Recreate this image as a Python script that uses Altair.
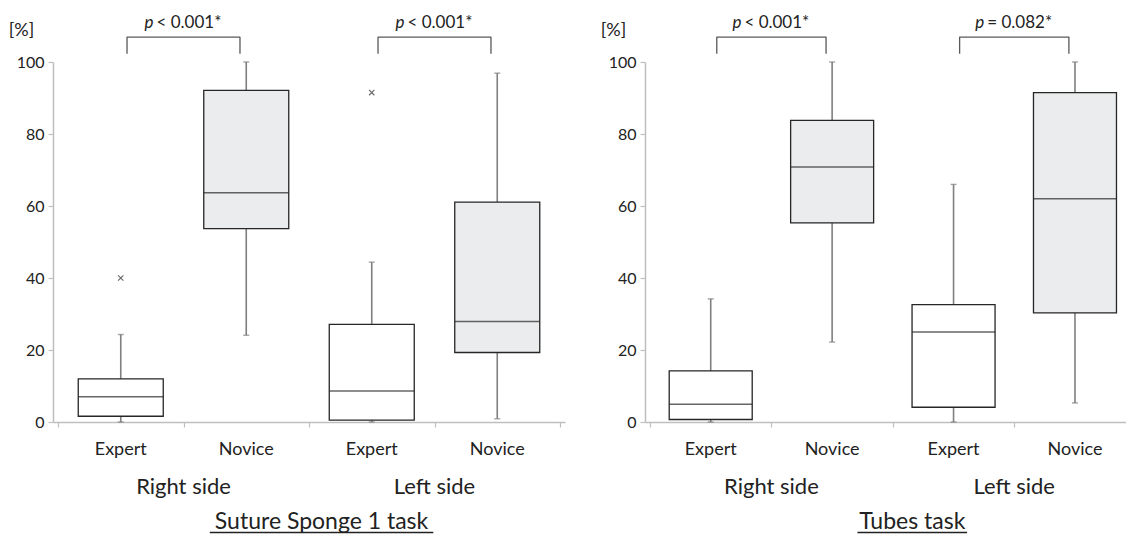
import altair as alt
import pandas as pd

# ---------------- data ----------------
groups = ["Expert", "Novice", "Expert", "Novice"]
sides = ["Right side", "Left side"]
positions = [0.5, 1.5, 2.5, 3.5]
fills = ["#ffffff", "#ebeced", "#ffffff", "#ebeced"]

# Suture Sponge 1 task
ss_lo = [0.0, 24.1, 0.0, 0.9]
ss_q1 = [1.6, 53.7, 0.5, 19.3]
ss_med = [7.0, 63.7, 8.6, 27.9]
ss_q3 = [12.0, 92.1, 27.1, 61.1]
ss_hi = [24.3, 100.0, 44.4, 96.9]
ss_out_group = [0, 2]
ss_out_val = [40.0, 91.5]
ss_p = ["< 0.001*", "< 0.001*"]

# Tubes task
tb_lo = [0.0, 22.2, 0.0, 5.3]
tb_q1 = [0.7, 55.3, 4.1, 30.3]
tb_med = [4.9, 70.8, 25.0, 62.0]
tb_q3 = [14.2, 83.8, 32.6, 91.5]
tb_hi = [34.2, 100.0, 66.0, 100.0]
tb_out_group = []
tb_out_val = []
tb_p = ["< 0.001*", "= 0.082*"]

FONT = "Lato"
AXIS_GRAY = "#bfbfbf"
TEXT = "#222222"
WHISK = "#7f7f7f"
BOX = "#262626"


def panel(title, lo, q1, med, q3, hi, out_group, out_val, pvals,
          width, xmax, box_px, title_x, title_half_px):
    height = 360
    px_per_unit = width / xmax

    def X(field):
        return alt.X(field, type="quantitative",
                     scale=alt.Scale(domain=[0, xmax], nice=False, zero=False),
                     axis=alt.Axis(values=[v for v in [0, 1, 2, 3, 4] if v <= xmax],
                                   labels=False, title=None, grid=False,
                                   domainColor=AXIS_GRAY, tickColor=AXIS_GRAY,
                                   tickSize=5, domainWidth=1.5, tickWidth=1.2))

    def Y(field):
        return alt.Y(field, type="quantitative",
                     scale=alt.Scale(domain=[0, 100], nice=False),
                     axis=alt.Axis(values=[0, 20, 40, 60, 80, 100], title="[%]",
                                   titleAngle=0, titleX=-32, titleY=-32,
                                   titleAlign="center", titleBaseline="middle",
                                   titleFont=FONT, titleFontSize=18,
                                   titleFontWeight="normal", titleColor=TEXT,
                                   labelFont=FONT, labelFontSize=16,
                                   labelColor=TEXT, labelPadding=4,
                                   grid=False, domainColor=AXIS_GRAY,
                                   tickColor=AXIS_GRAY, tickSize=5,
                                   domainWidth=1.5, tickWidth=1.2))

    df = pd.DataFrame({"pos": positions, "group": groups, "lo": lo, "q1": q1,
                       "med": med, "q3": q3, "hi": hi, "fill": fills})
    base = alt.Chart(df)

    whisk = base.mark_rule(color=WHISK, strokeWidth=1.6).encode(
        x=X("pos"), y=Y("lo"), y2="hi")
    cap_hi = base.mark_tick(orient="horizontal", size=6, thickness=1.4,
                            color=WHISK).encode(x=X("pos"), y=Y("hi"))
    cap_lo = base.mark_tick(orient="horizontal", size=6, thickness=1.4,
                            color=WHISK).encode(x=X("pos"), y=Y("lo"))
    box = base.mark_bar(size=box_px, stroke=BOX, strokeWidth=1.3).encode(
        x=X("pos"), y=Y("q1"), y2="q3", fill=alt.Fill("fill:N", scale=None))
    median = base.mark_tick(orient="horizontal", size=box_px, thickness=1.5,
                            color=BOX).encode(x=X("pos"), y=Y("med"))

    layers = [whisk, cap_hi, cap_lo, box, median]

    if out_group:
        odf = pd.DataFrame({"pos": [positions[g] for g in out_group],
                            "val": out_val})
        layers.append(alt.Chart(odf).mark_point(
            shape="M-1,-1L1,1M-1,1L1,-1", size=28, strokeWidth=1.1,
            color=BOX, filled=False).encode(x=X("pos"), y=Y("val")))

    # category labels
    layers.append(base.mark_text(font=FONT, fontSize=18, color=TEXT, dy=32.5,
                                 baseline="alphabetic").encode(
        x=X("pos"), y=alt.datum(0), text="group:N"))

    # side labels
    sdf = pd.DataFrame({"side": sides,
                        "pos": [(positions[0] + positions[1]) / 2,
                                (positions[2] + positions[3]) / 2]})
    layers.append(alt.Chart(sdf).mark_text(font=FONT, fontSize=22, color=TEXT,
                                           dy=72, baseline="alphabetic").encode(
        x=X("pos"), y=alt.datum(0), text="side:N"))

    # title + underline
    tdf = pd.DataFrame({"title": [title], "pos": [title_x],
                        "x0": [title_x - title_half_px / px_per_unit],
                        "x1": [title_x + title_half_px / px_per_unit]})
    layers.append(alt.Chart(tdf).mark_text(font=FONT, fontSize=23, color=TEXT,
                                           dy=107, baseline="alphabetic").encode(
        x=X("pos"), y=alt.datum(0), text="title:N"))
    layers.append(alt.Chart(tdf).mark_rule(color=TEXT, strokeWidth=1.5).encode(
        x=X("x0"), x2="x1", y=alt.value(height + 110.6)))

    # brackets
    rows = []
    prows = []
    for i, pv in enumerate(pvals):
        a = positions[2 * i] + 0.05
        b = positions[2 * i + 1] - 0.05
        for k, (xx, yy) in enumerate([(a, 102.3), (a, 106.9), (b, 106.9), (b, 102.3)]):
            rows.append({"br": i, "k": k, "bx": xx, "by": yy})
        prows.append({"pos": (a + b) / 2, "p": "p", "rest": pv})
    bdf = pd.DataFrame(rows)
    layers.append(alt.Chart(bdf).mark_line(color="#595959", strokeWidth=1.3,
                                           strokeJoin="round").encode(
        x=X("bx"), y=Y("by"), detail="br:N", order="k:Q"))
    pdf = pd.DataFrame(prows)
    layers.append(alt.Chart(pdf).mark_text(font=FONT, fontSize=17, fontStyle="italic",
                                           color=TEXT, align="right", dx=-30,
                                           baseline="middle").encode(
        x=X("pos"), y=alt.datum(110.8), text="p:N"))
    layers.append(alt.Chart(pdf).mark_text(font=FONT, fontSize=17, color=TEXT,
                                           align="left", dx=-27,
                                           baseline="middle").encode(
        x=X("pos"), y=alt.datum(110.8), text="rest:N"))

    return alt.layer(*layers).properties(width=width, height=height)


left = panel("Suture Sponge 1 task", ss_lo, ss_q1, ss_med, ss_q3, ss_hi,
             ss_out_group, ss_out_val, ss_p,
             width=512, xmax=4.0, box_px=85, title_x=2.1, title_half_px=114)
right = panel("Tubes task", tb_lo, tb_q1, tb_med, tb_q3, tb_hi,
              tb_out_group, tb_out_val, tb_p,
              width=481, xmax=481 / 124, box_px=83, title_x=2.16, title_half_px=56)

chart = alt.hconcat(left, right, spacing=35).properties(
    padding={"left": 0, "top": 6, "right": 0, "bottom": 0}
).configure_view(stroke=None)

chart.save("out.html", embed_options={"renderer": "svg", "actions": False})
